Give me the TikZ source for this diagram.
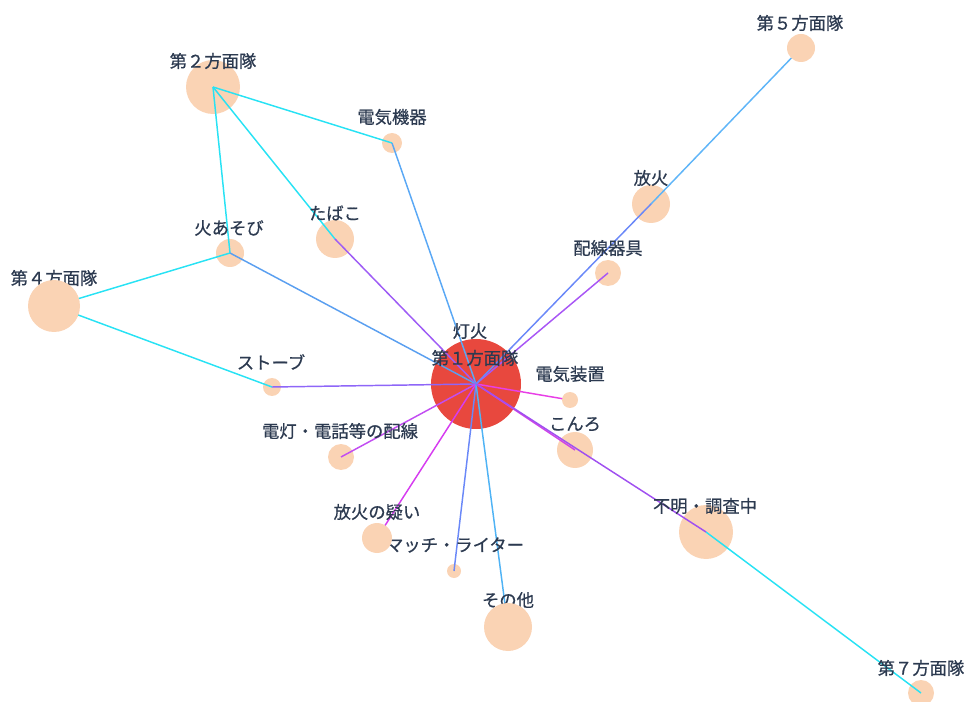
\documentclass[tikz,border=0pt]{standalone}
\usepackage{fontspec}
\newfontfamily\jp[FakeBold=0.6]{Noto Sans CJK JP}
\definecolor{peach}{HTML}{FAD3B4}
\definecolor{hubred}{HTML}{E8483E}
\definecolor{labc}{HTML}{2C3A50}
\definecolor{ecyan}{HTML}{28E2F4}
\definecolor{eblueA}{HTML}{5AA8F5}
\definecolor{eblueB}{HTML}{5A9FF0}
\definecolor{eblueC}{HTML}{6A88F8}
\definecolor{eblueD}{HTML}{4FB3F5}
\definecolor{eblueE}{HTML}{5FB5F8}
\definecolor{epurA}{HTML}{9E5CF5}
\definecolor{epurB}{HTML}{8E66F8}
\definecolor{epurC}{HTML}{A050F0}
\definecolor{epurD}{HTML}{A856F5}
\definecolor{emagA}{HTML}{C24DF2}
\definecolor{emagB}{HTML}{D63CF0}
\definecolor{emagC}{HTML}{E83EE6}
\definecolor{emagD}{HTML}{D040E8}
\pgfdeclarelayer{bg}
\pgfdeclarelayer{edges}
\pgfsetlayers{bg,edges,main}
\begin{document}
\begin{tikzpicture}[x=0.75pt,y=-0.75pt,
  bub/.style={circle,inner sep=0pt,fill=peach,draw=none,minimum size=#1},
  lab/.style={font=\jp\fontsize{13pt}{15pt}\selectfont,text=labc,inner sep=0pt,anchor=center},
  edge/.style={line width=1.1pt,#1}]
\useasboundingbox (0,0) rectangle (968,702);
% positions
\coordinate (pHub) at (476,384);
\coordinate (p2) at (213,87);
\coordinate (pKiki) at (392,143);
\coordinate (pTabako) at (335,239);
\coordinate (pAsobi) at (230,253);
\coordinate (p4) at (54,306);
\coordinate (pStove) at (272,387);
\coordinate (pDento) at (341,457);
\coordinate (pUtagai) at (377,538);
\coordinate (pMatch) at (454,571);
\coordinate (pSonota) at (508,627);
\coordinate (pHouka) at (651,204);
\coordinate (pHaisen) at (608,273);
\coordinate (pSochi) at (570,400);
\coordinate (pKonro) at (575,450);
\coordinate (pFumei) at (706,532);
\coordinate (p5) at (801,48);
\coordinate (p7) at (921,693);
% bottom circles
\begin{pgfonlayer}{bg}
\node[bub=67.5pt,fill=hubred] (hub) at (pHub) {};
\node[bub=40.5pt] (n2) at (p2) {};
\node[bub=15pt] (kiki) at (pKiki) {};
\node[bub=28.5pt] (tabako) at (pTabako) {};
\node[bub=21pt] (asobi) at (pAsobi) {};
\node[bub=13.5pt] (stove) at (pStove) {};
\node[bub=19.5pt] (dento) at (pDento) {};
\node[bub=10.5pt] (match) at (pMatch) {};
\node[bub=28.5pt] (houka) at (pHouka) {};
\node[bub=19.5pt] (haisen) at (pHaisen) {};
\node[bub=27pt] (konro) at (pKonro) {};
\node[bub=40.5pt] (fumei) at (pFumei) {};
\node[bub=19.5pt] (n7) at (p7) {};
\end{pgfonlayer}
% edges
\begin{pgfonlayer}{edges}
\draw[edge=ecyan] (p2) -- (pKiki);
\draw[edge=ecyan] (p2) -- (pAsobi);
\draw[edge=ecyan] (p2) -- (pTabako);
\draw[edge=ecyan] (p4) -- (pAsobi);
\draw[edge=ecyan] (p4) -- (pStove);
\draw[edge=ecyan] (p7) -- (pFumei);
\draw[edge=eblueE] (p5) -- (pHouka);
\draw[edge=eblueA] (pKiki) -- (pHub);
\draw[edge=epurA] (pTabako) -- (pHub);
\draw[edge=eblueB] (pAsobi) -- (pHub);
\draw[edge=epurB] (pStove) -- (pHub);
\draw[edge=emagA] (pDento) -- (pHub);
\draw[edge=emagB] (pUtagai) -- (pHub);
\draw[edge=eblueC] (pMatch) -- (pHub);
\draw[edge=eblueD] (pSonota) -- (pHub);
\draw[edge=emagC] (pSochi) -- (pHub);
\draw[edge=emagD] (pKonro) -- (pHub);
\draw[edge=epurC] (pFumei) -- (pHub);
\draw[edge=epurD] (pHaisen) -- (pHub);
\draw[edge=eblueC] (pHouka) -- (pHub);
\end{pgfonlayer}
% labels
\node[lab] (lTouka) at (470,331) {灯火};
\node[lab] (l1) at (475,358) {第１方面隊};
\node[lab] (l2) at (213,61) {第２方面隊};
\node[lab] (lKiki) at (392,117) {電気機器};
\node[lab] (lTabako) at (335,213) {たばこ};
\node[lab] (lAsobi) at (229,228) {火あそび};
\node[lab] (l4) at (54,278) {第４方面隊};
\node[lab] (lStove) at (271,362) {ストーブ};
\node[lab] (lDento) at (340,431) {電灯・電話等の配線};
\node[lab] (lUtagai) at (377,512) {放火の疑い};
\node[lab] (lMatch) at (455,545) {マッチ・ライター};
\node[lab] (lSonota) at (508,600) {その他};
\node[lab] (lHouka) at (651,178) {放火};
\node[lab] (lHaisen) at (608,248) {配線器具};
\node[lab] (lSochi) at (570,374) {電気装置};
\node[lab] (lKonro) at (575,424) {こんろ};
\node[lab] (lFumei) at (705,506) {不明・調査中};
\node[lab] (l5) at (800,23) {第５方面隊};
\node[lab] (l7) at (921,668) {第７方面隊};
% top circles
\node[bub=39pt] (n4) at (p4) {};
\node[bub=22.5pt] (utagai) at (pUtagai) {};
\node[bub=36pt] (sonota) at (pSonota) {};
\node[bub=12pt] (sochi) at (pSochi) {};
\node[bub=21pt] (n5) at (p5) {};
\end{tikzpicture}
\end{document}
